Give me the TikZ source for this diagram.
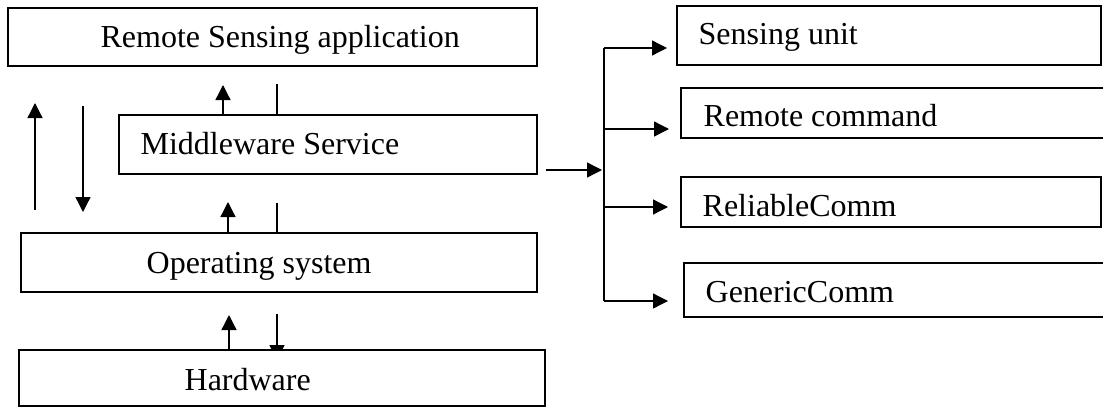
\documentclass[tikz,border=0pt]{standalone}
\usepackage{fontspec}
\setmainfont{Liberation Serif}
\usetikzlibrary{arrows.meta}

\begin{document}
\begin{tikzpicture}[x=1pt, y=-1pt,
  line width=1.3pt,
  layer/.style={draw=black, fill=white, rectangle, inner sep=0pt},
  txt/.style={anchor=base west, inner sep=0pt, font=\fontsize{32}{36}\selectfont},
  arr/.style={-{Triangle[length=15pt, width=15pt]}},
  link/.style={-}]

\useasboundingbox (0,0) rectangle (1103,407);

% ---------- layered stack ----------
\node[layer, minimum width=529pt, minimum height=58pt] (app) at (272.5,37) {};
\node[txt] (app-t) at (100,47) {Remote Sensing application};

\node[layer, minimum width=418pt, minimum height=59pt] (mw) at (328,144.5) {};
\node[txt] (mw-t) at (140,154) {Middleware Service};

\node[layer, minimum width=516pt, minimum height=59pt] (os) at (279,262.5) {};
\node[txt] (os-t) at (146,273) {Operating system};

% arrows between the layers
\coordinate (mw-up) at (223,85);
\coordinate (mw-in) at (277,84);
\draw[arr] (223,0 |- mw.north) -- (mw-up);
\draw[link] (277,0 |- mw.north) -- (mw-in);

\coordinate (os-up) at (228,202);
\coordinate (os-in) at (277,203);
\draw[arr] (228,0 |- os.north) -- (os-up);
\draw[link] (277,0 |- os.north) -- (os-in);

\coordinate (hw-up) at (229,315);
\coordinate (hw-in) at (277,314);
\coordinate (hw-down) at (277,360);
\draw[arr] (hw-in) -- (hw-down);

\node[layer, minimum width=526pt, minimum height=56pt] (hw) at (282,378) {};
\node[txt] (hw-t) at (184,390) {Hardware};
\draw[arr] (229,0 |- hw.north) -- (hw-up);

% long up / down arrows at the left
\coordinate (l-up-a) at (35,210);
\coordinate (l-up-b) at (35,103);
\coordinate (l-dn-a) at (83,106);
\coordinate (l-dn-b) at (83,212);
\draw[arr] (l-up-a) -- (l-up-b);
\draw[arr] (l-dn-a) -- (l-dn-b);

% ---------- middleware services ----------
\node[layer, minimum width=424pt, minimum height=59pt] (su) at (889,35.5) {};
\node[txt] (su-t) at (698,44) {Sensing unit};

\node[layer, minimum width=429pt, minimum height=50pt] (rc) at (895.5,113) {};
\node[txt] (rc-t) at (703,126) {Remote command};

\node[layer, minimum width=420pt, minimum height=50pt] (rel) at (891,202) {};
\node[txt] (rel-t) at (702,216) {ReliableComm};

\node[layer, minimum width=426pt, minimum height=54pt] (gen) at (897,290) {};
\node[txt] (gen-t) at (705,302) {GenericComm};

% fan-out from the middleware layer
\coordinate (bus-in) at (602,170);
\coordinate (bus-su) at (604,48);
\coordinate (bus-rc) at (604,129);
\coordinate (bus-rel) at (604,207);
\coordinate (bus-gen) at (604,301);

\draw[arr] (mw.east |- bus-in) ++(8,0) -- (bus-in);
\draw[link] (bus-su) -- (bus-gen);
\draw[arr] (bus-su) -- (667,48);
\draw[arr] (bus-rc) -- (669,129);
\draw[arr] (bus-rel) -- (668,207);
\draw[arr] (bus-gen) -- (668,301);

\end{tikzpicture}
\end{document}
